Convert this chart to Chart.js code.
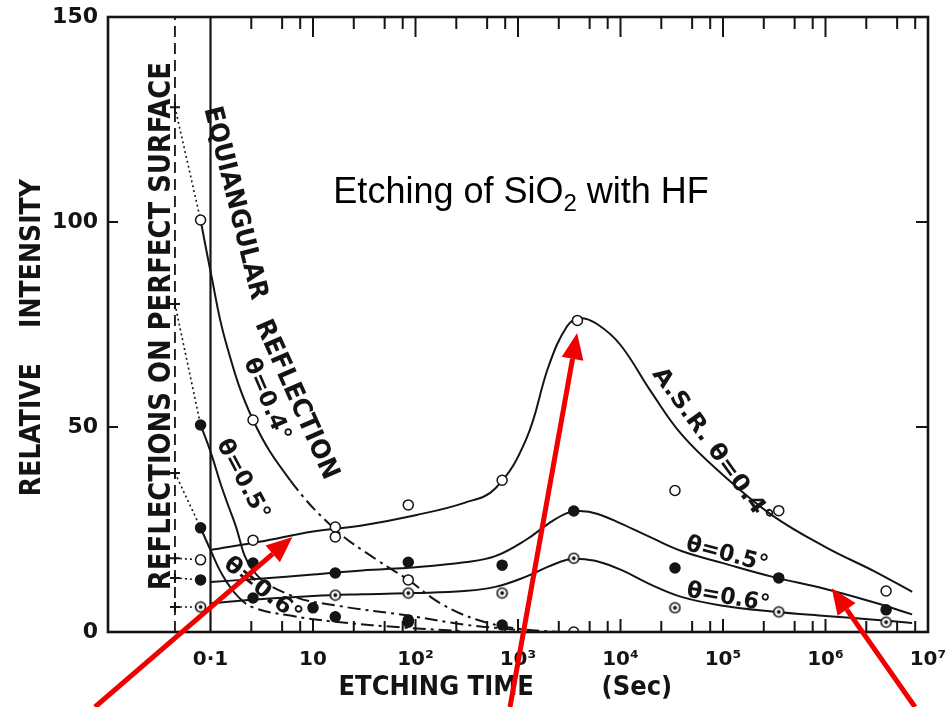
<!DOCTYPE html>
<html>
<head>
<meta charset="utf-8">
<script src="https://cdn.jsdelivr.net/npm/chart.js@4.4.1/dist/chart.umd.min.js"></script>
<style>
  html, body { margin: 0; background: #fff; }
</style>
</head>
<body>
<canvas id="chart" width="945" height="707"></canvas>
<script>
// axis ticks
const xTickValues = [1, 10, 100, 1e3, 1e4, 1e5, 1e6, 1e7];
const xTickLabels = ['0·1', '10', '10²', '10³', '10⁴', '10⁵', '10⁶', '10⁷'];
const xMinorTicks = [2.5, 5, 7.5, 25, 50, 75, 250, 500, 750, 2500, 5000, 7500,
  25000, 50000, 75000, 2.5e5, 5e5, 7.5e5, 2.5e6, 5e6, 7.5e6];
const yTickValues = [0, 50, 100, 150];

// etching time (s) of the two vertical reference lines
const perfectLineTime = 0.45;
const zeroLineTime = 1;

// A.S.R. smooth curves, read at these times
const asrTimes = [1, 3, 10, 30, 100, 300, 600, 1200, 2000, 3000, 4000, 6000, 10000, 20000, 40000,
  1e5, 3e5, 1e6, 3e6, 7e6];
const asr04Curve = [20, 22, 24.5, 26, 28.5, 31.5, 35, 47, 65, 74.5, 76.6, 75, 70, 58.5, 48,
  38.3, 28.5, 20.7, 14.8, 9.8];
const asr05Curve = [12.2, 13, 14, 15, 15.8, 17, 18.5, 22.5, 26.5, 29, 29.5, 28.8, 26.5, 23, 19.7,
  16.8, 13.5, 10.5, 7.2, 4.3];
const asr06Curve = [7, 8, 8.8, 9.2, 9.5, 10, 11, 13.5, 16, 17.6, 17.8, 17.2, 15.2, 11.5, 8.5,
  6.4, 5, 3.9, 3, 2.2];

// A.S.R. measured points
const asr04Times = [0.8, 2.6, 16.5, 85, 700, 3800, 34000, 3.5e5, 3.9e6];
const asr04Points = [17.6, 22.4, 23.2, 31, 37, 76, 34.5, 29.6, 10];
const asr05Times = [0.8, 16.5, 85, 700, 3500, 34000, 3.5e5, 3.9e6];
const asr05Points = [12.7, 14.4, 17, 16.3, 29.5, 15.6, 13.2, 5.4];
const asr06Times = [0.8, 16.5, 85, 700, 3500, 34000, 3.5e5, 3.9e6];
const asr06Points = [6.1, 9, 9.5, 9.5, 18, 5.9, 4.9, 2.4];

// equiangular reflection curves
const eq04Times = [0.8, 1, 1.4, 2.6, 6, 16.5, 42, 85, 175, 400, 1000, 2500];
const eq04Curve = [100.5, 88, 71, 51.7, 37, 25, 17.6, 12.7, 7, 3, 0.8, 0];
const eq05Times = [0.8, 1, 1.3, 1.7, 2.6, 6, 16.5, 85, 300, 1000];
const eq05Curve = [50.5, 44, 35, 27, 15, 9, 6.5, 4, 1.8, 0.5];
const eq06Times = [0.8, 1, 1.3, 1.8, 2.6, 6, 16.5, 85, 300];
const eq06Curve = [25.4, 20, 14, 9, 6, 4, 2.5, 1, 0.2];

// equiangular measured points
const eq04PtTimes = [0.8, 2.6, 16.5, 85, 3500];
const eq04Points = [100.5, 51.7, 25.6, 12.7, 0];
const eq05PtTimes = [0.8, 2.6, 16.5, 85];
const eq05Points = [50.5, 16.8, 3.7, 2.9];
const eq06PtTimes = [0.8, 2.6, 10, 85, 700];
const eq06Points = [25.4, 8.3, 5.9, 2.4, 1.7];

// reflections on perfect surface -> value at t = 0
const perfectStart = [128, 80, 38.8, 18, 13.2, 6.1];
const perfectEnd = [100.5, 50.5, 25.4, 17.6, 12.7, 6.1];
const perfectEndTime = 0.8;

const INK = '#141414';
const FONT = "'DejaVu Sans Condensed', 'DejaVu Sans', sans-serif";

function pts(times, vals) {
  return times.map((t, i) => ({ x: t, y: vals[i] }));
}

function ringDot() {
  const c = document.createElement('canvas');
  c.width = 13; c.height = 13;
  const g = c.getContext('2d');
  g.fillStyle = '#fff'; g.strokeStyle = INK; g.lineWidth = 1.6;
  g.beginPath(); g.arc(6.5, 6.5, 5, 0, Math.PI * 2); g.fill(); g.stroke();
  g.fillStyle = INK;
  g.beginPath(); g.arc(6.5, 6.5, 1.9, 0, Math.PI * 2); g.fill();
  return c;
}
const ringDotImg = ringDot();

function curve(data, dashFrom) {
  return {
    data, showLine: true, pointRadius: 0, borderColor: INK, borderWidth: 2,
    tension: 0.4, order: 2,
    segment: dashFrom == null ? {} : {
      borderDash: c => c.p0DataIndex >= dashFrom ? [13, 5, 3, 5] : undefined
    }
  };
}
function marks(data, kind) {
  const ds = { data, showLine: false, order: 0, pointRadius: 5, pointBorderWidth: 1.5,
    pointBorderColor: INK, pointBackgroundColor: kind === 'filled' ? INK : '#fff' };
  if (kind === 'ring') { ds.pointStyle = ringDotImg; }
  return ds;
}

const datasets = [
  // vertical reference lines
  { data: [{ x: perfectLineTime, y: 0 }, { x: perfectLineTime, y: 150 }], showLine: true,
    pointRadius: 0, borderColor: INK, borderWidth: 1.8, borderDash: [11, 6], order: 3 },
  { data: [{ x: zeroLineTime, y: 0 }, { x: zeroLineTime, y: 150 }], showLine: true,
    pointRadius: 0, borderColor: INK, borderWidth: 2.2, order: 3 },
  curve(pts(asrTimes, asr04Curve)),
  curve(pts(asrTimes, asr05Curve)),
  curve(pts(asrTimes, asr06Curve)),
  curve(pts(eq04Times, eq04Curve), 4),
  curve(pts(eq05Times, eq05Curve), 4),
  curve(pts(eq06Times, eq06Curve), 3),
  marks(pts(asr04Times, asr04Points), 'open'),
  marks(pts(asr05Times, asr05Points), 'filled'),
  marks(pts(asr06Times, asr06Points), 'ring'),
  marks(pts(eq04PtTimes, eq04Points), 'open'),
  marks(pts(eq05PtTimes, eq05Points), 'filled'),
  marks(pts(eq06PtTimes, eq06Points), 'filled')
];
perfectStart.forEach((v, i) => {
  datasets.push({
    data: [{ x: perfectLineTime, y: v }, { x: perfectEndTime, y: perfectEnd[i] }],
    showLine: true, borderColor: INK, borderWidth: 1.6, borderDash: [2, 3], order: 1,
    pointStyle: 'cross', pointBorderColor: INK, pointBorderWidth: 2,
    pointRadius: c => c.dataIndex === 0 ? 5 : 0
  });
});

// rotated labels, anchored at (time, value)
const notes = [
  { text: 'REFLECTIONS ON PERFECT SURFACE', t: 0.333, v: 74.6, angle: -90, size: 31, width: 528 },
  { text: 'EQUIANGULAR', t: 1.72, v: 104.6, angle: 76, size: 26, width: 198 },
  { text: 'REFLECTION', t: 6.85, v: 56.6, angle: 66, size: 26, width: 172 },
  { text: 'θ=0.4°', t: 3.51, v: 56.6, angle: 67, size: 23, width: 88 },
  { text: 'θ=0.5°', t: 2.05, v: 37.1, angle: 62, size: 23, width: 88 },
  { text: 'θ=0.6°', t: 3.21, v: 10.2, angle: 38, size: 23, width: 92 },
  { text: 'A.S.R. θ=0.4°', t: 78000, v: 45.3, angle: 54, size: 23, width: 188 },
  { text: 'θ=0.5°', t: 1.09e5, v: 18.8, angle: 15, size: 23, width: 84 },
  { text: 'θ=0.6°', t: 1.12e5, v: 8.3, angle: 10, size: 23, width: 84 }
];

// red arrows: tail at the bottom edge (px), head at (time, value)
const arrows = [
  { tailX: 95, t: 6.3, v: 23.2 },
  { tailX: 510, t: 3776, v: 72.9 },
  { tailX: 915, t: 1.15e6, v: 10.7 }
];

const decor = {
  id: 'decor',
  afterDraw(chart) {
    const { ctx, chartArea: a, scales: { x, y } } = chart;
    ctx.save();
    ctx.strokeStyle = INK;
    ctx.lineWidth = 2.6;
    ctx.strokeRect(a.left, a.top, a.right - a.left, a.bottom - a.top);

    // inward tick marks
    ctx.lineWidth = 2;
    ctx.beginPath();
    xTickValues.slice(1, -1).forEach(v => {
      const px = x.getPixelForValue(v);
      ctx.moveTo(px, a.top); ctx.lineTo(px, a.top + 20);
      ctx.moveTo(px, a.bottom); ctx.lineTo(px, a.bottom - 13);
    });
    xMinorTicks.forEach(v => {
      const px = x.getPixelForValue(v);
      ctx.moveTo(px, a.top); ctx.lineTo(px, a.top + 12);
      ctx.moveTo(px, a.bottom); ctx.lineTo(px, a.bottom - 11);
    });
    yTickValues.slice(1, -1).forEach(v => {
      const py = y.getPixelForValue(v);
      ctx.moveTo(a.left, py); ctx.lineTo(a.left + 10, py);
      ctx.moveTo(a.right, py); ctx.lineTo(a.right - 12, py);
    });
    ctx.stroke();

    // hand lettering
    ctx.fillStyle = INK;
    notes.forEach(n => {
      ctx.save();
      ctx.translate(x.getPixelForValue(n.t), y.getPixelForValue(n.v));
      ctx.rotate(n.angle * Math.PI / 180);
      ctx.font = `bold ${n.size}px ${FONT}`;
      const w = ctx.measureText(n.text).width;
      ctx.scale(n.width / w, 1);
      ctx.textAlign = 'center';
      ctx.textBaseline = 'middle';
      ctx.fillText(n.text, 0, 0);
      ctx.restore();
    });

    // title
    ctx.fillStyle = '#000';
    ctx.textBaseline = 'alphabetic';
    ctx.textAlign = 'left';
    let tx = x.getPixelForValue(15.8);
    const ty = y.getPixelForValue(104.6);
    ctx.font = "36px 'Liberation Sans', Arial, sans-serif";
    ctx.fillText('Etching of SiO', tx, ty);
    tx += ctx.measureText('Etching of SiO').width;
    ctx.font = "24px 'Liberation Sans', Arial, sans-serif";
    ctx.fillText('2', tx, ty + 8);
    tx += ctx.measureText('2').width;
    ctx.font = "36px 'Liberation Sans', Arial, sans-serif";
    ctx.fillText(' with HF', tx, ty);

    // red arrows
    ctx.strokeStyle = '#f00000';
    ctx.fillStyle = '#f00000';
    ctx.lineWidth = 5;
    arrows.forEach(ar => {
      const hx = x.getPixelForValue(ar.t), hy = y.getPixelForValue(ar.v);
      const tx0 = ar.tailX, ty0 = chart.height;
      const ang = Math.atan2(hy - ty0, hx - tx0);
      const L = 26, W = 11;
      const bx = hx - L * Math.cos(ang), by = hy - L * Math.sin(ang);
      ctx.beginPath(); ctx.moveTo(tx0, ty0); ctx.lineTo(bx, by); ctx.stroke();
      ctx.beginPath();
      ctx.moveTo(hx, hy);
      ctx.lineTo(bx + W * Math.sin(ang), by - W * Math.cos(ang));
      ctx.lineTo(bx - W * Math.sin(ang), by + W * Math.cos(ang));
      ctx.closePath(); ctx.fill();
    });
    ctx.restore();
  }
};

new Chart(document.getElementById('chart'), {
  type: 'scatter',
  data: { datasets },
  options: {
    responsive: false,
    animation: false,
    layout: { padding: { top: 17, right: 17, left: 0, bottom: 0 }, autoPadding: false },
    plugins: { legend: { display: false }, tooltip: { enabled: false } },
    scales: {
      x: {
        type: 'logarithmic', min: 0.1, max: 1e7, position: 'bottom',
        grid: { display: false, drawTicks: false }, border: { display: false },
        afterBuildTicks: s => { s.ticks = xTickValues.map(v => ({ value: v })); },
        afterFit: s => { s.height = 75; s.paddingLeft = 0; s.paddingRight = 0; },
        ticks: {
          autoSkip: false, maxRotation: 0, padding: 16, color: INK,
          font: { size: 20, weight: 'bold', family: "'DejaVu Sans', sans-serif" },
          callback: (v, i) => xTickLabels[i]
        },
        title: {
          display: true, text: 'ETCHING TIME        (Sec)   ', color: INK,
          padding: { top: 0, bottom: 3 },
          font: { size: 27, weight: 'bold', family: FONT }
        }
      },
      y: {
        min: 0, max: 150,
        grid: { display: false, drawTicks: false }, border: { display: false },
        afterBuildTicks: s => { s.ticks = yTickValues.map(v => ({ value: v })); },
        afterFit: s => { s.width = 108; s.paddingTop = 0; s.paddingBottom = 0; },
        ticks: {
          padding: 10, color: INK,
          font: { size: 22, weight: 'bold', family: "'DejaVu Sans', sans-serif" }
        },
        title: {
          display: true, text: 'RELATIVE    INTENSITY   ', color: INK,
          padding: { top: 16, bottom: 0 },
          font: { size: 28, weight: 'bold', family: FONT }
        }
      }
    }
  },
  plugins: [decor]
});
</script>
</body>
</html>
